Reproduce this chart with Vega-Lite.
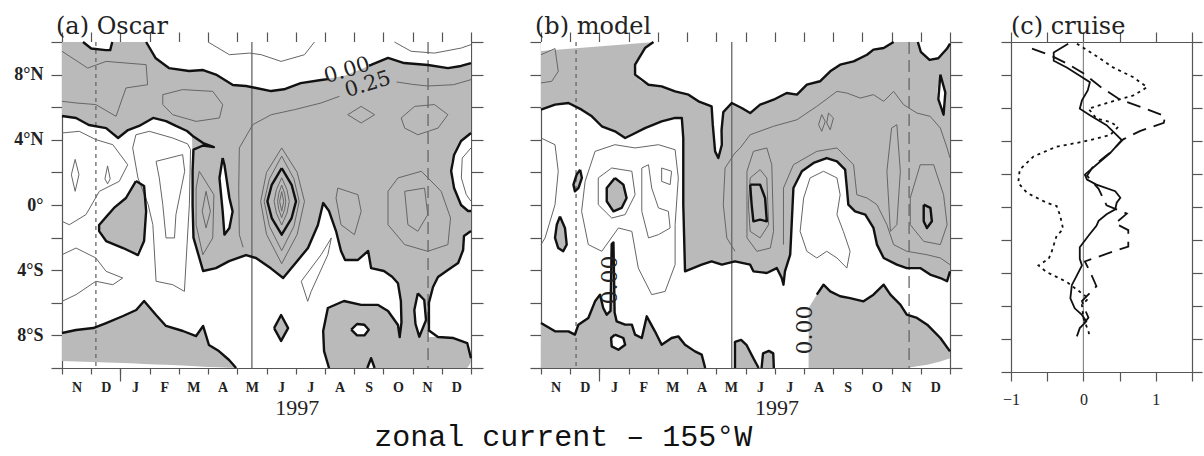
{
"$schema":"https://vega.github.io/schema/vega-lite/v6.json",
"background":"white",
"padding":{"left":13,"top":15,"right":0,"bottom":0},
"config":{"view":{"stroke":null},"axis":{"grid":false,"domainColor":"#555","tickColor":"#555","domainWidth":1.2,"tickWidth":1.2,"labelColor":"#222"},"title":{"font":"DejaVu Serif","fontWeight":"normal","color":"#222"}},
"title":{"text":"zonal current – 155°W","orient":"bottom","anchor":"middle","dx":-45,"offset":3,"baseline":"top","fontSize":30,"font":"Liberation Mono","color":"#111"},
"spacing":35,
"datasets":{
"aG":[
{"k":"n","t":0,"lo":5.46,"hi":10},{"k":"n","t":0.48,"lo":5.34,"hi":10},{"k":"n","t":0.92,"lo":4.91,"hi":10},{"k":"n","t":1.51,"lo":4.72,"hi":10},{"k":"n","t":1.92,"lo":4.11,"hi":10},{"k":"n","t":2.26,"lo":4.6,"hi":10},{"k":"n","t":2.64,"lo":4.85,"hi":10},{"k":"n","t":3.12,"lo":5.34,"hi":10},{"k":"n","t":3.56,"lo":5.15,"hi":10},{"k":"n","t":3.9,"lo":4.85,"hi":10},{"k":"n","t":4.28,"lo":4.54,"hi":10},{"k":"n","t":4.45,"lo":4.3,"hi":10},{"k":"n","t":4.47,"lo":2.1,"hi":10},{"k":"n","t":4.5,"lo":-2.0,"hi":10},{"k":"n","t":4.83,"lo":-4.05,"hi":10},{"k":"n","t":5.27,"lo":-3.87,"hi":10},{"k":"n","t":5.72,"lo":-3.44,"hi":10},{"k":"n","t":6.3,"lo":-3.07,"hi":10},{"k":"n","t":6.64,"lo":-3.25,"hi":10},{"k":"n","t":7.16,"lo":-3.9,"hi":10},{"k":"n","t":7.57,"lo":-4.48,"hi":10},{"k":"n","t":7.94,"lo":-3.68,"hi":10},{"k":"n","t":8.42,"lo":-2.64,"hi":10},{"k":"n","t":8.76,"lo":-1.23,"hi":10},{"k":"n","t":8.94,"lo":0.12,"hi":10},{"k":"n","t":9.14,"lo":-0.37,"hi":10},{"k":"n","t":9.38,"lo":-1.6,"hi":10},{"k":"n","t":9.55,"lo":-2.82,"hi":10},{"k":"n","t":9.69,"lo":-3.37,"hi":10},{"k":"n","t":10.13,"lo":-3.37,"hi":10},{"k":"n","t":10.48,"lo":-2.82,"hi":10},{"k":"n","t":10.58,"lo":-3.87,"hi":10},{"k":"n","t":11.02,"lo":-4.05,"hi":10},{"k":"n","t":11.3,"lo":-4.4,"hi":10},{"k":"n","t":11.5,"lo":-4.8,"hi":10},{"k":"n","t":11.6,"lo":-5.9,"hi":10},{"k":"n","t":11.62,"lo":-10,"hi":10},{"k":"n","t":12.54,"lo":-10,"hi":10},{"k":"n","t":12.56,"lo":-6.0,"hi":10},{"k":"n","t":12.7,"lo":-5.03,"hi":10},{"k":"n","t":12.87,"lo":-4.42,"hi":10},{"k":"n","t":13.21,"lo":-3.99,"hi":10},{"k":"n","t":13.56,"lo":-3.56,"hi":10},{"k":"n","t":13.73,"lo":-2.76,"hi":10},{"k":"n","t":13.76,"lo":-1.9,"hi":10},{"k":"n","t":14,"lo":-1.6,"hi":10},
{"k":"f2","t":1.27,"lo":-1.6,"hi":-1.23},{"k":"f2","t":1.51,"lo":-2.21,"hi":-0.6},{"k":"f2","t":1.78,"lo":-2.4,"hi":-0.18},{"k":"f2","t":2.19,"lo":-2.7,"hi":0.43},{"k":"f2","t":2.53,"lo":-3.0,"hi":1.47},{"k":"f2","t":2.81,"lo":-2.21,"hi":1.17},{"k":"f2","t":2.88,"lo":-0.9,"hi":-0.37},
{"k":"f3","t":8.93,"lo":-8.4,"hi":-7.9},{"k":"f3","t":8.97,"lo":-9.0,"hi":-7.2},{"k":"f3","t":9.05,"lo":-9.6,"hi":-6.6},{"k":"f3","t":9.1,"lo":-10,"hi":-6.32},{"k":"f3","t":9.65,"lo":-10,"hi":-5.89},{"k":"f3","t":10.24,"lo":-10,"hi":-6.13},{"k":"f3","t":10.82,"lo":-10,"hi":-6.13},{"k":"f3","t":11.16,"lo":-10,"hi":-6.5},{"k":"f3","t":11.5,"lo":-10,"hi":-7.36},{"k":"f3","t":11.62,"lo":-10,"hi":-8.1},{"k":"f3","t":12.55,"lo":-10,"hi":-8.1},{"k":"f3","t":12.87,"lo":-10,"hi":-8.1},{"k":"f3","t":13.4,"lo":-10,"hi":-8.16},{"k":"f3","t":13.87,"lo":-10,"hi":-8.47},{"k":"f3","t":13.95,"lo":-9.8,"hi":-8.9},{"k":"f3","t":14,"lo":-9.6,"hi":-9.4},
{"k":"f4","t":0,"lo":-9.57,"hi":-7.85},{"k":"f4","t":0.48,"lo":-9.6,"hi":-7.67},{"k":"f4","t":1.07,"lo":-9.63,"hi":-7.55},{"k":"f4","t":1.51,"lo":-9.66,"hi":-7.24},{"k":"f4","t":2.09,"lo":-9.7,"hi":-6.81},{"k":"f4","t":2.54,"lo":-9.73,"hi":-6.44},{"k":"f4","t":2.81,"lo":-9.75,"hi":-5.89},{"k":"f4","t":3.22,"lo":-9.78,"hi":-6.75},{"k":"f4","t":3.56,"lo":-9.8,"hi":-7.42},{"k":"f4","t":4.14,"lo":-9.85,"hi":-7.73},{"k":"f4","t":4.59,"lo":-9.9,"hi":-8.04},{"k":"f4","t":4.83,"lo":-9.92,"hi":-7.42},{"k":"f4","t":5.03,"lo":-9.94,"hi":-8.59},{"k":"f4","t":5.37,"lo":-9.96,"hi":-8.96},{"k":"f4","t":5.72,"lo":-9.98,"hi":-9.51},{"k":"f4","t":5.96,"lo":-10,"hi":-10},
{"k":"f5","t":7.26,"lo":-7.55,"hi":-7.55},{"k":"f5","t":7.5,"lo":-8.34,"hi":-6.75},{"k":"f5","t":7.74,"lo":-7.55,"hi":-7.55}
],
"aW":[
{"k":"wn","t":2.87,"lo":9.99,"hi":10},{"k":"wn","t":3.21,"lo":9.0,"hi":10},{"k":"wn","t":3.66,"lo":8.4,"hi":10},{"k":"wn","t":4.35,"lo":8.22,"hi":10},{"k":"wn","t":4.83,"lo":8.28,"hi":10},{"k":"wn","t":5.27,"lo":8.0,"hi":10},{"k":"wn","t":5.85,"lo":7.36,"hi":10},{"k":"wn","t":6.3,"lo":7.3,"hi":10},{"k":"wn","t":6.64,"lo":7.18,"hi":10},{"k":"wn","t":7.16,"lo":6.99,"hi":10},{"k":"wn","t":7.6,"lo":7.1,"hi":10},{"k":"wn","t":8.17,"lo":7.48,"hi":10},{"k":"wn","t":8.87,"lo":7.67,"hi":10},{"k":"wn","t":9.7,"lo":7.95,"hi":10},{"k":"wn","t":10.58,"lo":8.59,"hi":10},{"k":"wn","t":11.16,"lo":9.02,"hi":10},{"k":"wn","t":11.71,"lo":8.71,"hi":10},{"k":"wn","t":12.53,"lo":8.59,"hi":10},{"k":"wn","t":13.21,"lo":8.4,"hi":10},{"k":"wn","t":13.66,"lo":8.53,"hi":10},{"k":"wn","t":14,"lo":8.71,"hi":10},
{"k":"nt","t":0.72,"lo":10,"hi":10},{"k":"nt","t":1.0,"lo":9.6,"hi":10},{"k":"nt","t":1.5,"lo":9.5,"hi":10},{"k":"nt","t":1.65,"lo":9.5,"hi":10},{"k":"nt","t":1.72,"lo":10,"hi":10},
{"k":"w1","t":5.38,"lo":1.5,"hi":1.6},{"k":"w1","t":5.5,"lo":-0.4,"hi":2.88},{"k":"w1","t":5.56,"lo":-1.82,"hi":2.47},{"k":"w1","t":5.73,"lo":-1.41,"hi":0.43},{"k":"w1","t":5.84,"lo":-0.45,"hi":-0.35},
{"k":"w2","t":13.32,"lo":1.6,"hi":2.6},{"k":"w2","t":13.42,"lo":0.9,"hi":3.07},{"k":"w2","t":13.66,"lo":0.0,"hi":3.93},{"k":"w2","t":13.9,"lo":-0.37,"hi":4.3},{"k":"w2","t":14,"lo":-0.37,"hi":4.42},
{"k":"w3","t":12.06,"lo":-6.9,"hi":-6.3},{"k":"w3","t":12.18,"lo":-7.9,"hi":-5.42},{"k":"w3","t":12.3,"lo":-7.7,"hi":-5.6},{"k":"w3","t":12.4,"lo":-7.3,"hi":-5.83},{"k":"w3","t":12.46,"lo":-7.06,"hi":-7.0},
{"k":"w4","t":9.9,"lo":-7.75,"hi":-7.55},{"k":"w4","t":10.1,"lo":-8.0,"hi":-7.3},{"k":"w4","t":10.35,"lo":-8.0,"hi":-7.35},{"k":"w4","t":10.5,"lo":-7.7,"hi":-7.6},
{"k":"w5","t":10.45,"lo":-10,"hi":-10},{"k":"w5","t":10.58,"lo":-10,"hi":-9.4},{"k":"w5","t":10.7,"lo":-10,"hi":-10}
],
"aZ":[
{"k":"z1","t":0,"v":5.46},{"k":"z1","t":0.48,"v":5.34},{"k":"z1","t":0.92,"v":4.91},{"k":"z1","t":1.51,"v":4.72},{"k":"z1","t":1.92,"v":4.11},{"k":"z1","t":2.26,"v":4.6},{"k":"z1","t":2.64,"v":4.85},{"k":"z1","t":3.12,"v":5.34},{"k":"z1","t":3.56,"v":5.15},{"k":"z1","t":3.9,"v":4.85},{"k":"z1","t":4.28,"v":4.54},{"k":"z1","t":4.5,"v":4.2},{"k":"z1","t":4.83,"v":3.8},{"k":"z1","t":5.2,"v":3.55},{"k":"z1","t":4.83,"v":3.65},{"k":"z1","t":4.5,"v":3.4},{"k":"z1","t":4.47,"v":2.1},{"k":"z1","t":4.47,"v":0},{"k":"z1","t":4.5,"v":-2.0},{"k":"z1","t":4.83,"v":-4.05},{"k":"z1","t":5.27,"v":-3.87},{"k":"z1","t":5.72,"v":-3.44},{"k":"z1","t":6.3,"v":-3.07},{"k":"z1","t":6.64,"v":-3.25},{"k":"z1","t":7.16,"v":-3.9},{"k":"z1","t":7.57,"v":-4.48},{"k":"z1","t":7.94,"v":-3.68},{"k":"z1","t":8.42,"v":-2.64},{"k":"z1","t":8.76,"v":-1.23},{"k":"z1","t":8.94,"v":0.12},{"k":"z1","t":9.14,"v":-0.37},{"k":"z1","t":9.38,"v":-1.6},{"k":"z1","t":9.55,"v":-2.82},{"k":"z1","t":9.69,"v":-3.37},{"k":"z1","t":10.13,"v":-3.37},{"k":"z1","t":10.48,"v":-2.82},{"k":"z1","t":10.58,"v":-3.87},{"k":"z1","t":11.02,"v":-4.05},{"k":"z1","t":11.3,"v":-4.4},{"k":"z1","t":11.5,"v":-4.8},{"k":"z1","t":11.6,"v":-5.9},{"k":"z1","t":11.62,"v":-7.2},{"k":"z1","t":11.56,"v":-8.1},{"k":"z1","t":11.5,"v":-7.36},{"k":"z1","t":11.16,"v":-6.5},{"k":"z1","t":10.82,"v":-6.13},{"k":"z1","t":10.24,"v":-6.13},{"k":"z1","t":9.65,"v":-5.89},{"k":"z1","t":9.1,"v":-6.32},{"k":"z1","t":8.94,"v":-7.73},{"k":"z1","t":8.97,"v":-8.96},{"k":"z1","t":9.14,"v":-10},
{"k":"z2","t":14,"v":-1.6},{"k":"z2","t":13.76,"v":-1.9},{"k":"z2","t":13.73,"v":-2.76},{"k":"z2","t":13.56,"v":-3.56},{"k":"z2","t":13.21,"v":-3.99},{"k":"z2","t":12.87,"v":-4.42},{"k":"z2","t":12.7,"v":-5.03},{"k":"z2","t":12.56,"v":-6.0},{"k":"z2","t":12.56,"v":-7.7},{"k":"z2","t":12.87,"v":-8.1},{"k":"z2","t":13.4,"v":-8.16},{"k":"z2","t":13.87,"v":-8.47},{"k":"z2","t":14,"v":-9.4},
{"k":"z3","t":2.88,"v":10},{"k":"z3","t":3.21,"v":9.0},{"k":"z3","t":3.66,"v":8.4},{"k":"z3","t":4.35,"v":8.22},{"k":"z3","t":4.83,"v":8.28},{"k":"z3","t":5.27,"v":8.0},{"k":"z3","t":5.85,"v":7.36},{"k":"z3","t":6.3,"v":7.3},{"k":"z3","t":6.64,"v":7.18},{"k":"z3","t":7.16,"v":6.99},{"k":"z3","t":7.6,"v":7.1},{"k":"z3","t":8.17,"v":7.48},{"k":"z3","t":8.87,"v":7.67},{"k":"z3","t":9.1,"v":7.72},
{"k":"z3b","t":10.5,"v":8.55},{"k":"z3b","t":10.58,"v":8.59},{"k":"z3b","t":11.16,"v":9.02},{"k":"z3b","t":11.71,"v":8.71},{"k":"z3b","t":12.53,"v":8.59},{"k":"z3b","t":13.21,"v":8.4},{"k":"z3b","t":13.66,"v":8.53},{"k":"z3b","t":14,"v":8.71},
{"k":"z4","t":0.72,"v":10},{"k":"z4","t":1.0,"v":9.6},{"k":"z4","t":1.5,"v":9.5},{"k":"z4","t":1.65,"v":9.5},{"k":"z4","t":1.72,"v":10},
{"k":"z5","t":0,"v":-7.85},{"k":"z5","t":0.48,"v":-7.67},{"k":"z5","t":1.07,"v":-7.55},{"k":"z5","t":1.51,"v":-7.24},{"k":"z5","t":2.09,"v":-6.81},{"k":"z5","t":2.54,"v":-6.44},{"k":"z5","t":2.81,"v":-5.89},{"k":"z5","t":3.22,"v":-6.75},{"k":"z5","t":3.56,"v":-7.42},{"k":"z5","t":4.14,"v":-7.73},{"k":"z5","t":4.59,"v":-8.04},{"k":"z5","t":4.83,"v":-7.42},{"k":"z5","t":5.03,"v":-8.59},{"k":"z5","t":5.37,"v":-8.96},{"k":"z5","t":5.72,"v":-9.51},{"k":"z5","t":5.96,"v":-10},
{"k":"z6","t":2.53,"v":1.47},{"k":"z6","t":2.81,"v":1.17},{"k":"z6","t":2.88,"v":-0.37},{"k":"z6","t":2.81,"v":-2.21},{"k":"z6","t":2.6,"v":-3.07},{"k":"z6","t":2.09,"v":-2.64},{"k":"z6","t":1.51,"v":-2.21},{"k":"z6","t":1.27,"v":-1.6},{"k":"z6","t":1.27,"v":-1.23},{"k":"z6","t":1.78,"v":-0.18},{"k":"z6","t":2.19,"v":0.43},{"k":"z6","t":2.53,"v":1.47},
{"k":"z7","t":7.26,"v":-7.55},{"k":"z7","t":7.5,"v":-6.75},{"k":"z7","t":7.74,"v":-7.55},{"k":"z7","t":7.5,"v":-8.34},{"k":"z7","t":7.26,"v":-7.55},
{"k":"z8","t":5.5,"v":2.88},{"k":"z8","t":5.39,"v":1.66},{"k":"z8","t":5.5,"v":-0.39},{"k":"z8","t":5.56,"v":-1.82},{"k":"z8","t":5.73,"v":-1.41},{"k":"z8","t":5.84,"v":-0.39},{"k":"z8","t":5.73,"v":0.43},{"k":"z8","t":5.56,"v":2.47},{"k":"z8","t":5.5,"v":2.88},
{"k":"z9","t":14,"v":4.42},{"k":"z9","t":13.66,"v":3.93},{"k":"z9","t":13.42,"v":3.07},{"k":"z9","t":13.32,"v":2.09},{"k":"z9","t":13.42,"v":1.04},{"k":"z9","t":13.66,"v":0.0},{"k":"z9","t":13.9,"v":-0.37},{"k":"z9","t":14,"v":-0.37},
{"k":"z10","t":12.18,"v":-5.42},{"k":"z10","t":12.06,"v":-6.44},{"k":"z10","t":12.1,"v":-7.3},{"k":"z10","t":12.23,"v":-8.08},{"k":"z10","t":12.46,"v":-7.06},{"k":"z10","t":12.4,"v":-5.83},{"k":"z10","t":12.18,"v":-5.42},
{"k":"z11","t":9.9,"v":-7.65},{"k":"z11","t":10.1,"v":-7.3},{"k":"z11","t":10.35,"v":-7.35},{"k":"z11","t":10.5,"v":-7.65},{"k":"z11","t":10.35,"v":-8.0},{"k":"z11","t":10.1,"v":-8.0},{"k":"z11","t":9.9,"v":-7.65},
{"k":"z12","t":10.45,"v":-10},{"k":"z12","t":10.58,"v":-9.4},{"k":"z12","t":10.7,"v":-10},
{"k":"e1","t":7.52,"v":2.26},{"k":"e1","t":7.86,"v":1.24},{"k":"e1","t":8.01,"v":0.22},{"k":"e1","t":7.86,"v":-0.8},{"k":"e1","t":7.52,"v":-1.82},{"k":"e1","t":7.18,"v":-0.8},{"k":"e1","t":7.03,"v":0.22},{"k":"e1","t":7.18,"v":1.24},{"k":"e1","t":7.52,"v":2.26}
],
"aT":[
{"k":"t1","t":0,"v":9.43},{"k":"t1","t":0.88,"v":8.4},{"k":"t1","t":1.51,"v":8.81},{"k":"t1","t":2.19,"v":8.71},{"k":"t1","t":2.88,"v":8.61},{"k":"t1","t":2.93,"v":7.38},{"k":"t1","t":2.19,"v":7.18},{"k":"t1","t":1.85,"v":5.44},{"k":"t1","t":1.16,"v":6.16},{"k":"t1","t":0.48,"v":6.26},{"k":"t1","t":0,"v":6.36},
{"k":"t2","t":3.45,"v":6.77},{"k":"t2","t":4.13,"v":7.08},{"k":"t2","t":5.16,"v":6.97},{"k":"t2","t":5.5,"v":6.16},{"k":"t2","t":5.39,"v":5.34},{"k":"t2","t":4.59,"v":5.13},{"k":"t2","t":3.79,"v":5.54},{"k":"t2","t":3.45,"v":6.16},{"k":"t2","t":3.45,"v":6.77},
{"k":"t3","t":0,"v":4.42},{"k":"t3","t":0.59,"v":4.52},{"k":"t3","t":1.16,"v":4.01},{"k":"t3","t":1.74,"v":3.7},{"k":"t3","t":2.25,"v":2.47},{"k":"t3","t":1.96,"v":1.45},{"k":"t3","t":1.28,"v":0.84},{"k":"t3","t":0.82,"v":-0.59},{"k":"t3","t":0.25,"v":-1.21},{"k":"t3","t":0,"v":-1.0},
{"k":"t4","t":0.45,"v":2.8},{"k":"t4","t":0.58,"v":1.86},{"k":"t4","t":0.45,"v":0.84},{"k":"t4","t":0.32,"v":1.86},{"k":"t4","t":0.45,"v":2.8},
{"k":"t5","t":1.56,"v":2.4},{"k":"t5","t":1.65,"v":1.6},{"k":"t5","t":1.56,"v":1.3},{"k":"t5","t":1.47,"v":1.6},{"k":"t5","t":1.56,"v":2.4},
{"k":"t6","t":2.53,"v":4.31},{"k":"t6","t":2.99,"v":4.52},{"k":"t6","t":3.79,"v":4.11},{"k":"t6","t":4.3,"v":3.75},{"k":"t6","t":4.4,"v":3.4},{"k":"t6","t":4.36,"v":0.02},{"k":"t6","t":4.28,"v":-2.43},{"k":"t6","t":4.19,"v":-5.3},{"k":"t6","t":3.79,"v":-4.89},{"k":"t6","t":3.22,"v":-4.68},{"k":"t6","t":3.11,"v":-1.21},{"k":"t6","t":2.95,"v":0.02},{"k":"t6","t":2.6,"v":1.66},{"k":"t6","t":2.42,"v":3.5},{"k":"t6","t":2.53,"v":4.31},
{"k":"t7","t":3.22,"v":2.68},{"k":"t7","t":4.13,"v":3.09},{"k":"t7","t":4.2,"v":2.07},{"k":"t7","t":3.9,"v":-0.59},{"k":"t7","t":3.85,"v":-2.02},{"k":"t7","t":3.56,"v":-2.02},{"k":"t7","t":3.45,"v":0.02},{"k":"t7","t":3.33,"v":1.66},{"k":"t7","t":3.22,"v":2.68},
{"k":"t8","t":0,"v":-3.05},{"k":"t8","t":0.48,"v":-2.64},{"k":"t8","t":1.16,"v":-3.25},{"k":"t8","t":1.51,"v":-4.07},{"k":"t8","t":2.08,"v":-4.48},{"k":"t8","t":1.74,"v":-4.89},{"k":"t8","t":1.16,"v":-4.68},{"k":"t8","t":0.48,"v":-5.5},{"k":"t8","t":0,"v":-5.91},
{"k":"t9","t":4.7,"v":2.07},{"k":"t9","t":5.2,"v":0.63},{"k":"t9","t":5.16,"v":-2.02},{"k":"t9","t":4.82,"v":-3.05},{"k":"t9","t":4.59,"v":-1.21},{"k":"t9","t":4.59,"v":1.04},{"k":"t9","t":4.7,"v":2.07},
{"k":"t9b","t":4.93,"v":0.84},{"k":"t9b","t":5.08,"v":-0.39},{"k":"t9b","t":4.93,"v":-1.41},{"k":"t9b","t":4.8,"v":-0.39},{"k":"t9b","t":4.93,"v":0.84},
{"k":"t10","t":6.2,"v":-2.6},{"k":"t10","t":6.07,"v":-1.82},{"k":"t10","t":6.05,"v":1.0},{"k":"t10","t":6.07,"v":3.5},{"k":"t10","t":6.53,"v":4.93},{"k":"t10","t":7.16,"v":5.54},{"k":"t10","t":7.96,"v":5.85},{"k":"t10","t":8.87,"v":6.26},{"k":"t10","t":9.5,"v":6.67},
{"k":"t10b","t":11.45,"v":7.55},{"k":"t10b","t":12.0,"v":7.4},{"k":"t10b","t":12.52,"v":7.3},{"k":"t10b","t":13.4,"v":7.38},{"k":"t10b","t":14,"v":7.69},
{"k":"t11","t":9.78,"v":5.54},{"k":"t11","t":10.24,"v":6.05},{"k":"t11","t":10.7,"v":5.54},{"k":"t11","t":10.24,"v":5.03},{"k":"t11","t":9.78,"v":5.54},
{"k":"t12","t":11.61,"v":5.34},{"k":"t12","t":12.07,"v":6.05},{"k":"t12","t":12.75,"v":6.16},{"k":"t12","t":13.21,"v":5.54},{"k":"t12","t":12.87,"v":4.72},{"k":"t12","t":12.18,"v":4.31},{"k":"t12","t":11.73,"v":4.72},{"k":"t12","t":11.61,"v":5.34},
{"k":"t14","t":9.44,"v":1.04},{"k":"t14","t":10.13,"v":0.63},{"k":"t14","t":10.24,"v":-0.39},{"k":"t14","t":10.01,"v":-1.82},{"k":"t14","t":9.55,"v":-1.21},{"k":"t14","t":9.38,"v":0.43},{"k":"t14","t":9.44,"v":1.04},
{"k":"t15","t":11.5,"v":1.66},{"k":"t15","t":12.3,"v":2.07},{"k":"t15","t":12.98,"v":0.84},{"k":"t15","t":13.3,"v":-0.8},{"k":"t15","t":13.21,"v":-2.43},{"k":"t15","t":12.52,"v":-2.84},{"k":"t15","t":11.73,"v":-2.43},{"k":"t15","t":11.16,"v":-1.21},{"k":"t15","t":11.16,"v":0.84},{"k":"t15","t":11.5,"v":1.66},
{"k":"t16","t":11.73,"v":0.84},{"k":"t16","t":12.41,"v":1.04},{"k":"t16","t":12.52,"v":-0.59},{"k":"t16","t":12.18,"v":-1.61},{"k":"t16","t":11.84,"v":-1.21},{"k":"t16","t":11.73,"v":0.84},
{"k":"t17","t":8.19,"v":-4.68},{"k":"t17","t":8.87,"v":-3.05},{"k":"t17","t":9.22,"v":-2.02},{"k":"t17","t":9.1,"v":-3.05},{"k":"t17","t":8.53,"v":-5.3},{"k":"t17","t":8.41,"v":-5.91},{"k":"t17","t":8.19,"v":-4.68},
{"k":"t18","t":14,"v":3.5},{"k":"t18","t":13.7,"v":2.88},{"k":"t18","t":13.67,"v":1.66},{"k":"t18","t":13.84,"v":0.63},{"k":"t18","t":14,"v":0.23},
{"k":"t19","t":5.0,"v":10},{"k":"t19","t":5.73,"v":9.22},{"k":"t19","t":6.42,"v":9.32},{"k":"t19","t":6.82,"v":9.22},{"k":"t19","t":7.5,"v":8.81},{"k":"t19","t":8.3,"v":9.22},{"k":"t19","t":8.64,"v":10},
{"k":"t20","t":11.38,"v":10},{"k":"t20","t":11.95,"v":9.43},{"k":"t20","t":12.75,"v":9.32},{"k":"t20","t":13.67,"v":9.63},{"k":"t20","t":14,"v":9.84},
{"k":"e2","t":7.52,"v":1.67},{"k":"e2","t":7.7,"v":0.95},{"k":"e2","t":7.78,"v":0.22},{"k":"e2","t":7.7,"v":-0.5},{"k":"e2","t":7.52,"v":-1.23},{"k":"e2","t":7.34,"v":-0.5},{"k":"e2","t":7.26,"v":0.22},{"k":"e2","t":7.34,"v":0.95},{"k":"e2","t":7.52,"v":1.67},
{"k":"e3","t":7.52,"v":1.22},{"k":"e3","t":7.62,"v":0.72},{"k":"e3","t":7.66,"v":0.22},{"k":"e3","t":7.62,"v":-0.28},{"k":"e3","t":7.52,"v":-0.78},{"k":"e3","t":7.42,"v":-0.28},{"k":"e3","t":7.38,"v":0.22},{"k":"e3","t":7.42,"v":0.72},{"k":"e3","t":7.52,"v":1.22},
{"k":"e4","t":7.52,"v":0.82},{"k":"e4","t":7.59,"v":0.22},{"k":"e4","t":7.52,"v":-0.38},{"k":"e4","t":7.45,"v":0.22},{"k":"e4","t":7.52,"v":0.82},
{"k":"e5","t":7.52,"v":3.0},{"k":"e5","t":7.94,"v":1.6},{"k":"e5","t":8.12,"v":0.22},{"k":"e5","t":7.94,"v":-1.3},{"k":"e5","t":7.52,"v":-2.8},{"k":"e5","t":7.1,"v":-1.3},{"k":"e5","t":6.92,"v":0.22},{"k":"e5","t":7.1,"v":1.6},{"k":"e5","t":7.52,"v":3.0},
{"k":"e6","t":7.52,"v":3.5},{"k":"e6","t":8.05,"v":2.0},{"k":"e6","t":8.3,"v":0.22},{"k":"e6","t":8.05,"v":-1.8},{"k":"e6","t":7.52,"v":-3.6},{"k":"e6","t":7.0,"v":-1.8},{"k":"e6","t":6.8,"v":0.22},{"k":"e6","t":7.0,"v":2.0},{"k":"e6","t":7.52,"v":3.5}
],
"aL":[{"t":9.76,"v":8.24,"s":"0.00","a":-17},{"t":10.47,"v":7.38,"s":"0.25","a":-17}],
"vA":[{"t":1.16,"s":"dot"},{"t":6.5,"s":"solid"},{"t":12.53,"s":"dash"}],
"bG":[
{"k":"n","t":0,"lo":5.85,"hi":10},{"k":"n","t":0.48,"lo":6.16,"hi":10},{"k":"n","t":0.94,"lo":6.26,"hi":10},{"k":"n","t":1.39,"lo":5.85,"hi":10},{"k":"n","t":1.74,"lo":5.44,"hi":10},{"k":"n","t":2.08,"lo":4.83,"hi":10},{"k":"n","t":2.53,"lo":4.52,"hi":10},{"k":"n","t":2.88,"lo":4.11,"hi":10},{"k":"n","t":3.11,"lo":4.31,"hi":10},{"k":"n","t":3.56,"lo":4.72,"hi":10},{"k":"n","t":4.13,"lo":5.13,"hi":10},{"k":"n","t":4.59,"lo":5.34,"hi":10},{"k":"n","t":4.82,"lo":5.34,"hi":10},{"k":"n","t":4.86,"lo":4.0,"hi":10},{"k":"n","t":4.88,"lo":0,"hi":10},{"k":"n","t":4.93,"lo":-4.07,"hi":10},{"k":"n","t":5.5,"lo":-3.66,"hi":10},{"k":"n","t":5.84,"lo":-3.46,"hi":10},{"k":"n","t":6.19,"lo":-3.66,"hi":10},{"k":"n","t":6.64,"lo":-3.46,"hi":10},{"k":"n","t":7.16,"lo":-3.66,"hi":10},{"k":"n","t":7.27,"lo":-4.07,"hi":10},{"k":"n","t":7.73,"lo":-4.17,"hi":10},{"k":"n","t":8.07,"lo":-3.87,"hi":10},{"k":"n","t":8.24,"lo":-4.48,"hi":10},{"k":"n","t":8.3,"lo":-4.89,"hi":10},{"k":"n","t":8.35,"lo":-4.07,"hi":10},{"k":"n","t":8.53,"lo":-3.05,"hi":10},{"k":"n","t":8.58,"lo":-1.21,"hi":10},{"k":"n","t":8.64,"lo":1.04,"hi":10},{"k":"n","t":8.93,"lo":2.07,"hi":10},{"k":"n","t":9.33,"lo":2.58,"hi":10},{"k":"n","t":9.78,"lo":2.88,"hi":10},{"k":"n","t":10.13,"lo":2.68,"hi":10},{"k":"n","t":10.41,"lo":2.17,"hi":10},{"k":"n","t":10.47,"lo":1.04,"hi":10},{"k":"n","t":10.52,"lo":0.02,"hi":10},{"k":"n","t":10.75,"lo":-0.39,"hi":10},{"k":"n","t":11.1,"lo":-0.59,"hi":10},{"k":"n","t":11.38,"lo":-1.41,"hi":10},{"k":"n","t":11.5,"lo":-2.43,"hi":10},{"k":"n","t":11.73,"lo":-3.25,"hi":10},{"k":"n","t":12.18,"lo":-3.66,"hi":10},{"k":"n","t":12.52,"lo":-3.87,"hi":10},{"k":"n","t":12.98,"lo":-3.87,"hi":10},{"k":"n","t":13.32,"lo":-4.27,"hi":10},{"k":"n","t":13.67,"lo":-4.48,"hi":10},{"k":"n","t":13.9,"lo":-4.68,"hi":10},{"k":"n","t":14,"lo":-4.07,"hi":10},
{"k":"sw","t":0,"lo":-10,"hi":-7.24},{"k":"sw","t":0.48,"lo":-10,"hi":-7.75},{"k":"sw","t":0.94,"lo":-10,"hi":-7.75},{"k":"sw","t":1.16,"lo":-10,"hi":-7.95},{"k":"sw","t":1.28,"lo":-10,"hi":-7.34},{"k":"sw","t":1.62,"lo":-10,"hi":-6.93},{"k":"sw","t":1.85,"lo":-10,"hi":-5.91},{"k":"sw","t":2.02,"lo":-10,"hi":-5.5},{"k":"sw","t":2.13,"lo":-10,"hi":-6.32},{"k":"sw","t":2.25,"lo":-10,"hi":-6.73},{"k":"sw","t":2.38,"lo":-10,"hi":-6.5},{"k":"sw","t":2.42,"lo":-10,"hi":-2.4},{"k":"sw","t":2.48,"lo":-10,"hi":-2.3},{"k":"sw","t":2.52,"lo":-10,"hi":-6.6},{"k":"sw","t":2.59,"lo":-10,"hi":-7.14},{"k":"sw","t":2.88,"lo":-10,"hi":-7.34},{"k":"sw","t":3.11,"lo":-10,"hi":-7.34},{"k":"sw","t":3.22,"lo":-10,"hi":-7.95},{"k":"sw","t":3.45,"lo":-10,"hi":-8.16},{"k":"sw","t":3.62,"lo":-10,"hi":-6.83},{"k":"sw","t":3.9,"lo":-10,"hi":-7.75},{"k":"sw","t":4.13,"lo":-10,"hi":-8.57},{"k":"sw","t":4.47,"lo":-10,"hi":-8.16},{"k":"sw","t":4.7,"lo":-10,"hi":-8.06},{"k":"sw","t":4.93,"lo":-10,"hi":-8.57},{"k":"sw","t":5.27,"lo":-10,"hi":-8.98},{"k":"sw","t":5.5,"lo":-10,"hi":-9.18},{"k":"sw","t":5.62,"lo":-10,"hi":-10},
{"k":"se","t":9.16,"lo":-10,"hi":-6.32},{"k":"se","t":9.44,"lo":-10,"hi":-5.5},{"k":"se","t":9.67,"lo":-10,"hi":-4.89},{"k":"se","t":9.9,"lo":-10,"hi":-5.3},{"k":"se","t":10.24,"lo":-10,"hi":-5.6},{"k":"se","t":10.58,"lo":-10,"hi":-5.71},{"k":"se","t":11.04,"lo":-10,"hi":-5.91},{"k":"se","t":11.38,"lo":-10,"hi":-5.5},{"k":"se","t":11.73,"lo":-10,"hi":-4.89},{"k":"se","t":11.96,"lo":-10,"hi":-5.5},{"k":"se","t":12.3,"lo":-10,"hi":-6.11},{"k":"se","t":12.52,"lo":-10,"hi":-6.73},{"k":"se","t":12.87,"lo":-9.9,"hi":-6.93},{"k":"se","t":13.22,"lo":-9.8,"hi":-7.34},{"k":"se","t":13.67,"lo":-9.6,"hi":-8.16},{"k":"se","t":14,"lo":-9.4,"hi":-8.98},
{"k":"l1","t":1.11,"lo":1.1,"hi":1.35},{"k":"l1","t":1.22,"lo":0.9,"hi":1.86},{"k":"l1","t":1.34,"lo":1.1,"hi":2.17},{"k":"l1","t":1.4,"lo":1.6,"hi":1.7},
{"k":"l2","t":2.25,"lo":0.23,"hi":1.04},{"k":"l2","t":2.4,"lo":-0.3,"hi":1.5},{"k":"l2","t":2.53,"lo":-0.4,"hi":1.66},{"k":"l2","t":2.76,"lo":-0.18,"hi":1.4},{"k":"l2","t":2.82,"lo":-0.05,"hi":1.25},{"k":"l2","t":2.93,"lo":0.43,"hi":0.5},
{"k":"l3","t":0.48,"lo":-2.1,"hi":-1.95},{"k":"l3","t":0.54,"lo":-2.5,"hi":-1.21},{"k":"l3","t":0.65,"lo":-2.75,"hi":-0.7},{"k":"l3","t":0.76,"lo":-2.84,"hi":-1.1},{"k":"l3","t":0.82,"lo":-2.7,"hi":-1.41},{"k":"l3","t":0.88,"lo":-2.43,"hi":-2.1},
{"k":"b1","t":6.64,"lo":-10,"hi":-8.4},{"k":"b1","t":6.85,"lo":-10,"hi":-8.28},{"k":"b1","t":7.04,"lo":-10,"hi":-8.6},{"k":"b1","t":7.27,"lo":-10,"hi":-9.4},{"k":"b1","t":7.45,"lo":-10,"hi":-10},
{"k":"b2","t":7.55,"lo":-10,"hi":-10},{"k":"b2","t":7.6,"lo":-10,"hi":-9.1},{"k":"b2","t":7.8,"lo":-10,"hi":-8.95},{"k":"b2","t":7.95,"lo":-10,"hi":-9.1},{"k":"b2","t":7.97,"lo":-10,"hi":-10}
],
"bW":[
{"k":"wn","t":3.22,"lo":8.0,"hi":8.61},{"k":"wn","t":3.4,"lo":7.6,"hi":9.2},{"k":"wn","t":3.56,"lo":7.45,"hi":9.63},{"k":"wn","t":3.68,"lo":7.38,"hi":9.8},{"k":"wn","t":3.85,"lo":7.33,"hi":10},{"k":"wn","t":4.13,"lo":7.28,"hi":10},{"k":"wn","t":4.59,"lo":6.97,"hi":10},{"k":"wn","t":5.05,"lo":6.77,"hi":10},{"k":"wn","t":5.39,"lo":6.36,"hi":10},{"k":"wn","t":5.84,"lo":6.05,"hi":10},{"k":"wn","t":5.88,"lo":4.93,"hi":10},{"k":"wn","t":5.96,"lo":3.29,"hi":10},{"k":"wn","t":6.07,"lo":2.88,"hi":10},{"k":"wn","t":6.16,"lo":3.5,"hi":10},{"k":"wn","t":6.19,"lo":4.6,"hi":10},{"k":"wn","t":6.24,"lo":5.7,"hi":10},{"k":"wn","t":6.53,"lo":6.26,"hi":10},{"k":"wn","t":6.87,"lo":5.95,"hi":10},{"k":"wn","t":7.16,"lo":5.64,"hi":10},{"k":"wn","t":7.5,"lo":6.16,"hi":10},{"k":"wn","t":7.96,"lo":6.46,"hi":10},{"k":"wn","t":8.41,"lo":6.87,"hi":10},{"k":"wn","t":8.76,"lo":6.77,"hi":10},{"k":"wn","t":9.1,"lo":7.38,"hi":10},{"k":"wn","t":9.55,"lo":7.59,"hi":10},{"k":"wn","t":9.9,"lo":8.2,"hi":10},{"k":"wn","t":10.24,"lo":8.61,"hi":10},{"k":"wn","t":10.7,"lo":8.81,"hi":10},{"k":"wn","t":11.16,"lo":9.22,"hi":10},{"k":"wn","t":11.38,"lo":9.53,"hi":10},{"k":"wn","t":11.73,"lo":9.63,"hi":10},{"k":"wn","t":12.07,"lo":10,"hi":10},
{"k":"wt","t":0,"lo":9.45,"hi":10},{"k":"wt","t":3.9,"lo":10,"hi":10},
{"k":"nt","t":12.9,"lo":10,"hi":10},{"k":"nt","t":13.0,"lo":9.4,"hi":10},{"k":"nt","t":13.3,"lo":8.9,"hi":10},{"k":"nt","t":13.6,"lo":9.0,"hi":10},{"k":"nt","t":13.9,"lo":9.6,"hi":10},{"k":"nt","t":14,"lo":9.9,"hi":10},
{"k":"ln","t":13.56,"lo":6.6,"hi":7.0},{"k":"ln","t":13.67,"lo":5.9,"hi":8.0},{"k":"ln","t":13.78,"lo":5.54,"hi":7.3},{"k":"ln","t":13.84,"lo":6.8,"hi":7.0},
{"k":"h1","t":2.4,"lo":-8.4,"hi":-8.16},{"k":"h1","t":2.53,"lo":-8.8,"hi":-7.95},{"k":"h1","t":2.7,"lo":-8.88,"hi":-8.05},{"k":"h1","t":2.88,"lo":-8.57,"hi":-8.5}
],
"bZ":[
{"k":"z1","t":0,"v":5.85},{"k":"z1","t":0.48,"v":6.16},{"k":"z1","t":0.94,"v":6.26},{"k":"z1","t":1.39,"v":5.85},{"k":"z1","t":1.74,"v":5.44},{"k":"z1","t":2.08,"v":4.83},{"k":"z1","t":2.53,"v":4.52},{"k":"z1","t":2.88,"v":4.11},{"k":"z1","t":3.11,"v":4.31},{"k":"z1","t":3.56,"v":4.72},{"k":"z1","t":4.13,"v":5.13},{"k":"z1","t":4.59,"v":5.34},{"k":"z1","t":4.82,"v":5.34},{"k":"z1","t":4.87,"v":4.11},{"k":"z1","t":4.87,"v":0.02},{"k":"z1","t":4.93,"v":-4.07},{"k":"z1","t":5.5,"v":-3.66},{"k":"z1","t":5.84,"v":-3.46},{"k":"z1","t":6.19,"v":-3.66},{"k":"z1","t":6.64,"v":-3.46},{"k":"z1","t":7.16,"v":-3.66},{"k":"z1","t":7.27,"v":-4.07},{"k":"z1","t":7.73,"v":-4.17},{"k":"z1","t":8.07,"v":-3.87},{"k":"z1","t":8.24,"v":-4.48},{"k":"z1","t":8.3,"v":-4.89},{"k":"z1","t":8.35,"v":-4.07},{"k":"z1","t":8.53,"v":-3.05},{"k":"z1","t":8.58,"v":-1.21},{"k":"z1","t":8.64,"v":1.04},{"k":"z1","t":8.93,"v":2.07},{"k":"z1","t":9.33,"v":2.58},{"k":"z1","t":9.78,"v":2.88},{"k":"z1","t":10.13,"v":2.68},{"k":"z1","t":10.41,"v":2.17},{"k":"z1","t":10.47,"v":1.04},{"k":"z1","t":10.52,"v":0.02},{"k":"z1","t":10.75,"v":-0.39},{"k":"z1","t":11.1,"v":-0.59},{"k":"z1","t":11.38,"v":-1.41},{"k":"z1","t":11.5,"v":-2.43},{"k":"z1","t":11.73,"v":-3.25},{"k":"z1","t":12.18,"v":-3.66},{"k":"z1","t":12.52,"v":-3.87},{"k":"z1","t":12.98,"v":-3.87},{"k":"z1","t":13.32,"v":-4.27},{"k":"z1","t":13.67,"v":-4.48},{"k":"z1","t":13.9,"v":-4.68},{"k":"z1","t":14,"v":-4.07},
{"k":"z2","t":3.85,"v":10},{"k":"z2","t":3.56,"v":9.63},{"k":"z2","t":3.22,"v":8.61},{"k":"z2","t":3.22,"v":8.0},{"k":"z2","t":3.68,"v":7.38},{"k":"z2","t":4.13,"v":7.28},{"k":"z2","t":4.59,"v":6.97},{"k":"z2","t":5.05,"v":6.77},{"k":"z2","t":5.39,"v":6.36},{"k":"z2","t":5.84,"v":6.05},{"k":"z2","t":5.88,"v":4.93},{"k":"z2","t":5.96,"v":3.29},{"k":"z2","t":6.07,"v":2.88},{"k":"z2","t":6.19,"v":3.7},{"k":"z2","t":6.18,"v":4.6},{"k":"z2","t":6.24,"v":5.7},{"k":"z2","t":6.53,"v":6.26},{"k":"z2","t":6.87,"v":5.95},{"k":"z2","t":7.16,"v":5.64},{"k":"z2","t":7.5,"v":6.16},{"k":"z2","t":7.96,"v":6.46},{"k":"z2","t":8.41,"v":6.87},{"k":"z2","t":8.76,"v":6.77},{"k":"z2","t":9.1,"v":7.38},{"k":"z2","t":9.55,"v":7.59},{"k":"z2","t":9.9,"v":8.2},{"k":"z2","t":10.24,"v":8.61},{"k":"z2","t":10.7,"v":8.81},{"k":"z2","t":11.16,"v":9.22},{"k":"z2","t":11.38,"v":9.53},{"k":"z2","t":11.73,"v":9.63},{"k":"z2","t":12.07,"v":10},
{"k":"z3","t":12.9,"v":10},{"k":"z3","t":13.0,"v":9.4},{"k":"z3","t":13.3,"v":8.9},{"k":"z3","t":13.6,"v":9.0},{"k":"z3","t":13.9,"v":9.6},{"k":"z3","t":14,"v":9.9},
{"k":"z4","t":13.67,"v":8.0},{"k":"z4","t":13.84,"v":6.9},{"k":"z4","t":13.78,"v":5.54},{"k":"z4","t":13.6,"v":6.5},{"k":"z4","t":13.67,"v":8.0},
{"k":"z5","t":0,"v":-7.24},{"k":"z5","t":0.48,"v":-7.75},{"k":"z5","t":0.94,"v":-7.75},{"k":"z5","t":1.16,"v":-7.95},{"k":"z5","t":1.28,"v":-7.34},{"k":"z5","t":1.62,"v":-6.93},{"k":"z5","t":1.85,"v":-5.91},{"k":"z5","t":2.02,"v":-5.5},{"k":"z5","t":2.13,"v":-6.32},{"k":"z5","t":2.25,"v":-6.73},{"k":"z5","t":2.38,"v":-6.5},{"k":"z5","t":2.42,"v":-2.4},{"k":"z5","t":2.48,"v":-2.3},{"k":"z5","t":2.52,"v":-6.6},{"k":"z5","t":2.59,"v":-7.14},{"k":"z5","t":2.88,"v":-7.34},{"k":"z5","t":3.11,"v":-7.34},{"k":"z5","t":3.22,"v":-7.95},{"k":"z5","t":3.45,"v":-8.16},{"k":"z5","t":3.62,"v":-6.83},{"k":"z5","t":3.9,"v":-7.75},{"k":"z5","t":4.13,"v":-8.57},{"k":"z5","t":4.47,"v":-8.16},{"k":"z5","t":4.7,"v":-8.06},{"k":"z5","t":4.93,"v":-8.57},{"k":"z5","t":5.27,"v":-8.98},{"k":"z5","t":5.5,"v":-9.18},{"k":"z5","t":5.62,"v":-10},
{"k":"z6","t":9.44,"v":-5.5},{"k":"z6","t":9.67,"v":-4.89},{"k":"z6","t":9.9,"v":-5.3},{"k":"z6","t":10.24,"v":-5.6},{"k":"z6","t":10.58,"v":-5.71},{"k":"z6","t":11.04,"v":-5.91},{"k":"z6","t":11.38,"v":-5.5},{"k":"z6","t":11.73,"v":-4.89},{"k":"z6","t":11.96,"v":-5.5},{"k":"z6","t":12.3,"v":-6.11},{"k":"z6","t":12.52,"v":-6.73},{"k":"z6","t":12.87,"v":-6.93},{"k":"z6","t":13.22,"v":-7.34},{"k":"z6","t":13.67,"v":-8.16},{"k":"z6","t":14,"v":-8.98},
{"k":"z7","t":1.34,"v":2.17},{"k":"z7","t":1.4,"v":1.66},{"k":"z7","t":1.28,"v":1.04},{"k":"z7","t":1.16,"v":0.84},{"k":"z7","t":1.11,"v":1.25},{"k":"z7","t":1.22,"v":1.86},{"k":"z7","t":1.34,"v":2.17},
{"k":"z8","t":2.53,"v":1.66},{"k":"z8","t":2.82,"v":1.25},{"k":"z8","t":2.93,"v":0.43},{"k":"z8","t":2.76,"v":-0.18},{"k":"z8","t":2.48,"v":-0.39},{"k":"z8","t":2.25,"v":0.23},{"k":"z8","t":2.25,"v":1.04},{"k":"z8","t":2.53,"v":1.66},
{"k":"z9","t":0.65,"v":-0.7},{"k":"z9","t":0.82,"v":-1.41},{"k":"z9","t":0.88,"v":-2.43},{"k":"z9","t":0.76,"v":-2.84},{"k":"z9","t":0.59,"v":-2.64},{"k":"z9","t":0.48,"v":-2.02},{"k":"z9","t":0.54,"v":-1.21},{"k":"z9","t":0.65,"v":-0.7},
{"k":"z10","t":2.53,"v":-7.95},{"k":"z10","t":2.82,"v":-8.16},{"k":"z10","t":2.88,"v":-8.57},{"k":"z10","t":2.65,"v":-8.88},{"k":"z10","t":2.42,"v":-8.67},{"k":"z10","t":2.4,"v":-8.16},{"k":"z10","t":2.53,"v":-7.95},
{"k":"z11","t":6.64,"v":-10},{"k":"z11","t":6.64,"v":-8.4},{"k":"z11","t":6.85,"v":-8.28},{"k":"z11","t":7.04,"v":-8.6},{"k":"z11","t":7.27,"v":-9.4},{"k":"z11","t":7.45,"v":-10},
{"k":"z12","t":7.55,"v":-10},{"k":"z12","t":7.6,"v":-9.1},{"k":"z12","t":7.8,"v":-8.95},{"k":"z12","t":7.95,"v":-9.1},{"k":"z12","t":7.97,"v":-10},
{"k":"z13","t":7.16,"v":1.25},{"k":"z13","t":7.5,"v":1.25},{"k":"z13","t":7.67,"v":0.43},{"k":"z13","t":7.73,"v":-1.0},{"k":"z13","t":7.5,"v":-0.9},{"k":"z13","t":7.27,"v":-1.0},{"k":"z13","t":7.21,"v":0.02},{"k":"z13","t":7.16,"v":1.25},
{"k":"z14","t":13.1,"v":0.02},{"k":"z14","t":13.33,"v":-0.18},{"k":"z14","t":13.38,"v":-1.0},{"k":"z14","t":13.21,"v":-1.41},{"k":"z14","t":13.1,"v":-1.0},{"k":"z14","t":13.1,"v":0.02}
],
"bT":[
{"k":"t1","t":6.64,"v":-2.84},{"k":"t1","t":6.36,"v":-2.02},{"k":"t1","t":6.24,"v":0.02},{"k":"t1","t":6.3,"v":2.27},{"k":"t1","t":6.64,"v":3.19},{"k":"t1","t":6.82,"v":3.5},{"k":"t1","t":7.16,"v":4.31},{"k":"t1","t":7.96,"v":4.83},{"k":"t1","t":8.76,"v":5.23},{"k":"t1","t":9.44,"v":6.05},{"k":"t1","t":10.13,"v":6.97},{"k":"t1","t":10.47,"v":6.87},{"k":"t1","t":10.93,"v":6.56},{"k":"t1","t":11.38,"v":6.77},{"k":"t1","t":11.73,"v":6.36},{"k":"t1","t":12.07,"v":6.97},{"k":"t1","t":12.41,"v":6.16},{"k":"t1","t":12.87,"v":5.64},{"k":"t1","t":13.32,"v":5.44},{"k":"t1","t":13.67,"v":4.72},{"k":"t1","t":13.9,"v":3.5},{"k":"t1","t":14,"v":2.88},
{"k":"t2","t":7.05,"v":2.07},{"k":"t2","t":7.27,"v":3.29},{"k":"t2","t":7.73,"v":3.5},{"k":"t2","t":7.9,"v":2.47},{"k":"t2","t":7.96,"v":-1.62},{"k":"t2","t":7.85,"v":-2.64},{"k":"t2","t":7.39,"v":-2.84},{"k":"t2","t":7.05,"v":-2.02},{"k":"t2","t":7.05,"v":2.07},
{"k":"t3","t":7.16,"v":1.66},{"k":"t3","t":7.5,"v":2.17},{"k":"t3","t":7.73,"v":1.66},{"k":"t3","t":7.79,"v":-1.21},{"k":"t3","t":7.5,"v":-2.02},{"k":"t3","t":7.16,"v":-1.62},{"k":"t3","t":7.1,"v":0.02},{"k":"t3","t":7.16,"v":1.66},
{"k":"t5","t":8.3,"v":-2.43},{"k":"t5","t":8.3,"v":1.04},{"k":"t5","t":8.64,"v":2.47},{"k":"t5","t":9.44,"v":3.29},{"k":"t5","t":10.13,"v":3.5},{"k":"t5","t":10.7,"v":2.47},{"k":"t5","t":10.81,"v":0.63},{"k":"t5","t":11.16,"v":0.43},{"k":"t5","t":11.5,"v":0.02},{"k":"t5","t":11.84,"v":-1.21},{"k":"t5","t":12.07,"v":-2.43},{"k":"t5","t":12.52,"v":-2.84},{"k":"t5","t":13.21,"v":-3.05},{"k":"t5","t":13.67,"v":-3.25},{"k":"t5","t":14,"v":-3.66},
{"k":"t6","t":8.99,"v":0.43},{"k":"t6","t":9.21,"v":1.66},{"k":"t6","t":9.67,"v":2.07},{"k":"t6","t":10.13,"v":1.66},{"k":"t6","t":10.24,"v":0.63},{"k":"t6","t":10.13,"v":-0.59},{"k":"t6","t":10.35,"v":-1.62},{"k":"t6","t":10.58,"v":-2.84},{"k":"t6","t":10.47,"v":-3.87},{"k":"t6","t":10.13,"v":-3.25},{"k":"t6","t":9.78,"v":-2.84},{"k":"t6","t":9.44,"v":-3.25},{"k":"t6","t":9.1,"v":-2.84},{"k":"t6","t":8.87,"v":-1.62},{"k":"t6","t":8.99,"v":0.43},
{"k":"t7","t":12.0,"v":4.72},{"k":"t7","t":12.18,"v":4.93},{"k":"t7","t":12.3,"v":2.07},{"k":"t7","t":12.18,"v":-1.21},{"k":"t7","t":11.96,"v":-1.62},{"k":"t7","t":11.84,"v":2.07},{"k":"t7","t":12.0,"v":4.72},
{"k":"t8","t":12.64,"v":0.43},{"k":"t8","t":12.98,"v":2.47},{"k":"t8","t":13.44,"v":2.47},{"k":"t8","t":13.78,"v":0.63},{"k":"t8","t":13.9,"v":-1.21},{"k":"t8","t":13.67,"v":-2.43},{"k":"t8","t":13.1,"v":-2.23},{"k":"t8","t":12.64,"v":-1.21},{"k":"t8","t":12.64,"v":0.43},
{"k":"t9","t":9.61,"v":5.54},{"k":"t9","t":9.73,"v":5.13},{"k":"t9","t":9.61,"v":4.52},{"k":"t9","t":9.5,"v":4.93},{"k":"t9","t":9.61,"v":5.54},
{"k":"t10","t":9.84,"v":5.64},{"k":"t10","t":10.01,"v":5.34},{"k":"t10","t":9.9,"v":4.62},{"k":"t10","t":9.78,"v":5.03},{"k":"t10","t":9.84,"v":5.64},
{"k":"w1","t":0,"v":4.11},{"k":"w1","t":0.48,"v":3.7},{"k":"w1","t":0.59,"v":2.07},{"k":"w1","t":0.48,"v":0.02},{"k":"w1","t":0.14,"v":-2.02},{"k":"w1","t":0,"v":-2.43},
{"k":"w2","t":1.85,"v":3.29},{"k":"w2","t":2.53,"v":3.7},{"k":"w2","t":3.22,"v":3.5},{"k":"w2","t":4.02,"v":3.7},{"k":"w2","t":4.59,"v":3.39},{"k":"w2","t":4.7,"v":1.66},{"k":"w2","t":4.59,"v":-1.21},{"k":"w2","t":4.59,"v":-3.66},{"k":"w2","t":4.25,"v":-5.3},{"k":"w2","t":3.79,"v":-5.5},{"k":"w2","t":3.33,"v":-3.87},{"k":"w2","t":3.11,"v":-1.62},{"k":"w2","t":2.65,"v":-1.41},{"k":"w2","t":2.08,"v":-2.84},{"k":"w2","t":1.62,"v":-2.43},{"k":"w2","t":1.39,"v":-0.39},{"k":"w2","t":1.51,"v":1.45},{"k":"w2","t":1.85,"v":3.29},
{"k":"w3","t":1.96,"v":1.66},{"k":"w3","t":2.42,"v":2.27},{"k":"w3","t":3.11,"v":2.07},{"k":"w3","t":3.22,"v":0.63},{"k":"w3","t":2.88,"v":-0.59},{"k":"w3","t":2.42,"v":-0.8},{"k":"w3","t":1.96,"v":0.02},{"k":"w3","t":1.96,"v":1.66},
{"k":"w4","t":3.45,"v":2.27},{"k":"w4","t":3.68,"v":2.47},{"k":"w4","t":3.79,"v":1.04},{"k":"w4","t":4.02,"v":-0.18},{"k":"w4","t":4.36,"v":-0.39},{"k":"w4","t":4.42,"v":-1.41},{"k":"w4","t":4.02,"v":-1.82},{"k":"w4","t":3.68,"v":-2.02},{"k":"w4","t":3.45,"v":-0.39},{"k":"w4","t":3.45,"v":2.27},
{"k":"w5","t":4.13,"v":2.27},{"k":"w5","t":4.47,"v":2.07},{"k":"w5","t":4.42,"v":1.25},{"k":"w5","t":4.13,"v":1.45},{"k":"w5","t":4.13,"v":2.27},
{"k":"tl","t":0,"v":9.22},{"k":"tl","t":0.48,"v":9.6},{"k":"tl","t":0.59,"v":8.2},{"k":"tl","t":0.37,"v":7.59},{"k":"tl","t":0,"v":7.49}
],
"bL":[{"t":2.36,"v":-4.6,"s":"0.00","a":-90},{"t":9.04,"v":-7.67,"s":"0.00","a":-90}],
"vB":[{"t":1.2,"s":"dot"},{"t":6.53,"s":"solid"},{"t":12.6,"s":"dash"}],
"cS":[{"lat":9.9,"u":-0.21},{"lat":9.36,"u":-0.41},{"lat":8.86,"u":-0.41},{"lat":8.46,"u":-0.23},{"lat":7.96,"u":-0.05},{"lat":7.56,"u":0.09},{"lat":7.06,"u":0.06},{"lat":6.46,"u":-0.02},{"lat":5.96,"u":-0.05},{"lat":5.56,"u":0.09},{"lat":4.96,"u":0.32},{"lat":4.06,"u":0.53},{"lat":3.26,"u":0.37},{"lat":2.56,"u":0.18},{"lat":1.96,"u":0.02},{"lat":1.66,"u":0.05},{"lat":1.36,"u":0.18},{"lat":0.96,"u":0.44},{"lat":0.56,"u":0.51},{"lat":0.26,"u":0.46},{"lat":-0.14,"u":0.44},{"lat":-0.44,"u":0.32},{"lat":-0.84,"u":0.21},{"lat":-1.14,"u":0.18},{"lat":-1.74,"u":0.07},{"lat":-2.44,"u":-0.05},{"lat":-3.14,"u":-0.05},{"lat":-3.54,"u":-0.02},{"lat":-4.14,"u":-0.09},{"lat":-4.74,"u":-0.16},{"lat":-5.54,"u":-0.18},{"lat":-6.14,"u":-0.12},{"lat":-6.54,"u":-0.02},{"lat":-6.94,"u":0.04},{"lat":-7.34,"u":-0.05},{"lat":-7.84,"u":-0.09}],
"cD":[{"lat":9.6,"u":-0.71},{"lat":9.2,"u":-0.46},{"lat":8.7,"u":-0.23},{"lat":8.1,"u":0.0},{"lat":7.3,"u":0.23},{"lat":6.5,"u":0.51},{"lat":6.0,"u":0.83},{"lat":5.5,"u":1.13},{"lat":5.1,"u":1.11},{"lat":4.6,"u":0.78},{"lat":4.1,"u":0.55},{"lat":3.3,"u":0.37},{"lat":2.5,"u":0.14},{"lat":1.9,"u":0.05},{"lat":1.1,"u":0.21},{"lat":0.1,"u":0.32},{"lat":-0.4,"u":0.6},{"lat":-1.0,"u":0.44},{"lat":-1.4,"u":0.62},{"lat":-2.4,"u":0.62},{"lat":-2.7,"u":0.41},{"lat":-3.3,"u":0.02},{"lat":-4.0,"u":0.1},{"lat":-4.8,"u":0.18},{"lat":-5.3,"u":0.07},{"lat":-5.7,"u":-0.02},{"lat":-6.2,"u":0.02},{"lat":-6.7,"u":0.07},{"lat":-7.1,"u":0.0},{"lat":-7.4,"u":0.07}],
"cO":[{"lat":9.9,"u":-0.09},{"lat":9.26,"u":0.14},{"lat":8.46,"u":0.41},{"lat":7.86,"u":0.69},{"lat":7.26,"u":0.88},{"lat":6.76,"u":0.69},{"lat":6.36,"u":0.37},{"lat":5.96,"u":0.07},{"lat":5.36,"u":0.18},{"lat":5.16,"u":0.37},{"lat":4.86,"u":0.48},{"lat":4.36,"u":0.37},{"lat":3.96,"u":0.0},{"lat":3.66,"u":-0.37},{"lat":3.06,"u":-0.69},{"lat":2.26,"u":-0.88},{"lat":1.46,"u":-0.9},{"lat":0.86,"u":-0.78},{"lat":0.26,"u":-0.51},{"lat":0.06,"u":-0.37},{"lat":-0.54,"u":-0.32},{"lat":-1.34,"u":-0.28},{"lat":-1.74,"u":-0.37},{"lat":-2.74,"u":-0.44},{"lat":-3.14,"u":-0.48},{"lat":-3.54,"u":-0.62},{"lat":-3.94,"u":-0.51},{"lat":-4.54,"u":-0.23},{"lat":-5.14,"u":-0.05},{"lat":-5.54,"u":0.07},{"lat":-5.94,"u":-0.02},{"lat":-6.74,"u":0.0},{"lat":-7.54,"u":0.07},{"lat":-7.94,"u":0.09}]
},
"hconcat":[
{
"width":409,"height":326,
"title":{"text":"(a) Oscar","anchor":"start","frame":"group","dx":-6,"offset":-27,"baseline":"alphabetic","fontSize":24},
"layer":[
{"data":{"name":"aG"},"mark":{"type":"area","color":"#bababa","orient":"vertical"},
"encoding":{"x":{"field":"t","type":"quantitative","scale":{"domain":[0,14],"nice":false,"zero":false},
"axis":{"orient":"bottom","values":[0,1,2,3,4,5,6,7,8,9,10,11,12,13,14],"title":null,"labelExpr":"['N','D','J','F','M','A','M','J','J','A','S','O','N','D',''][datum.value]","labelOffset":14.6,"labelFont":"Liberation Serif","labelFontWeight":"bold","labelFontSize":14,"labelPadding":6,"tickSize":6,"labelFlush":false,"labelBound":false,"labelOverlap":false}},
"y":{"field":"lo","type":"quantitative","scale":{"domain":[-10,10],"nice":false,"zero":false},
"axis":{"orient":"left","values":[-10,-8,-6,-4,-2,0,2,4,6,8,10],"title":null,"tickSize":11,"labelPadding":8,"labelFont":"Liberation Serif","labelFontWeight":"bold","labelFontSize":18,"labelExpr":"datum.value % 4 != 0 ? '' : datum.value > 0 ? datum.value + '°N' : datum.value < 0 ? (-datum.value) + '°S' : '0°'"}},
"y2":{"field":"hi"},"detail":{"field":"k"}}},
{"data":{"name":"aW"},"mark":{"type":"area","color":"white","orient":"vertical"},
"encoding":{"x":{"field":"t","type":"quantitative","scale":{"domain":[0,14],"nice":false,"zero":false},"axis":null},"y":{"field":"lo","type":"quantitative","scale":{"domain":[-10,10],"nice":false,"zero":false},"axis":null},"y2":{"field":"hi"},"detail":{"field":"k"}}},
{"data":{"name":"vA"},"mark":{"type":"rule","color":"#666","strokeWidth":1.3},
"encoding":{"x":{"field":"t","type":"quantitative","scale":{"domain":[0,14],"nice":false,"zero":false},"axis":{"orient":"bottom","values":[2],"title":null,"labels":false,"domain":false,"tickSize":13}},"strokeDash":{"field":"s","type":"nominal","scale":{"domain":["dot","solid","dash"],"range":[[4,4],[1,0],[12,6]]},"legend":null}}},
{"data":{"name":"aT"},"mark":{"type":"line","color":"#666","strokeWidth":1},
"encoding":{"x":{"field":"t","type":"quantitative","scale":{"domain":[0,14],"nice":false,"zero":false},"axis":null},"y":{"field":"v","type":"quantitative","scale":{"domain":[-10,10],"nice":false,"zero":false},"axis":null},"detail":{"field":"k"},"order":{"value":null}}},
{"data":{"name":"aZ"},"mark":{"type":"line","color":"#111","strokeWidth":2.4,"strokeJoin":"round"},
"encoding":{"x":{"field":"t","type":"quantitative","scale":{"domain":[0,14],"nice":false,"zero":false},"axis":{"orient":"top","values":[0,1,2,3,4,5,6,7,8,9,10,11,12,13,14],"title":null,"labels":false,"tickSize":10}},"y":{"field":"v","type":"quantitative","scale":{"domain":[-10,10],"nice":false,"zero":false},"axis":{"orient":"right","values":[-10,-8,-6,-4,-2,0,2,4,6,8,10],"title":null,"labels":false,"tickSize":12}},"detail":{"field":"k"},"order":{"value":null}}},
{"data":{"name":"aL"},"mark":{"type":"text","font":"DejaVu Serif","fontSize":21,"color":"#222"},
"encoding":{"x":{"field":"t","type":"quantitative","scale":{"domain":[0,14],"nice":false,"zero":false},"axis":null},"y":{"field":"v","type":"quantitative","scale":{"domain":[-10,10],"nice":false,"zero":false},"axis":null},"text":{"field":"s"},"angle":{"field":"a","type":"quantitative","scale":null}}},
{"data":{"values":[{"t":8.05,"v":-10,"s":"1997"}]},"mark":{"type":"text","font":"Liberation Serif","fontSize":22,"color":"#222","dy":47,"baseline":"alphabetic"},
"encoding":{"x":{"field":"t","type":"quantitative","scale":{"domain":[0,14],"nice":false,"zero":false},"axis":null},"y":{"field":"v","type":"quantitative","scale":{"domain":[-10,10],"nice":false,"zero":false},"axis":null},"text":{"field":"s"}}}
],
"resolve":{"axis":{"x":"independent","y":"independent"}}
},
{
"width":409,"height":326,
"title":{"text":"(b) model","anchor":"start","frame":"group","dx":-6,"offset":-27,"baseline":"alphabetic","fontSize":24},
"layer":[
{"data":{"name":"bG"},"mark":{"type":"area","color":"#bababa","orient":"vertical"},
"encoding":{"x":{"field":"t","type":"quantitative","scale":{"domain":[0,14],"nice":false,"zero":false},
"axis":{"orient":"bottom","values":[0,1,2,3,4,5,6,7,8,9,10,11,12,13,14],"title":null,"labelExpr":"['N','D','J','F','M','A','M','J','J','A','S','O','N','D',''][datum.value]","labelOffset":14.6,"labelFont":"Liberation Serif","labelFontWeight":"bold","labelFontSize":14,"labelPadding":6,"tickSize":6,"labelFlush":false,"labelBound":false,"labelOverlap":false}},
"y":{"field":"lo","type":"quantitative","scale":{"domain":[-10,10],"nice":false,"zero":false},
"axis":{"orient":"left","values":[-10,-8,-6,-4,-2,0,2,4,6,8,10],"title":" ","titleFontSize":6,"titlePadding":2,"minExtent":0,"labels":false,"tickSize":11}},
"y2":{"field":"hi"},"detail":{"field":"k"}}},
{"data":{"name":"bW"},"mark":{"type":"area","color":"white","orient":"vertical"},
"encoding":{"x":{"field":"t","type":"quantitative","scale":{"domain":[0,14],"nice":false,"zero":false},"axis":null},"y":{"field":"lo","type":"quantitative","scale":{"domain":[-10,10],"nice":false,"zero":false},"axis":null},"y2":{"field":"hi"},"detail":{"field":"k"}}},
{"data":{"name":"vB"},"mark":{"type":"rule","color":"#666","strokeWidth":1.3},
"encoding":{"x":{"field":"t","type":"quantitative","scale":{"domain":[0,14],"nice":false,"zero":false},"axis":{"orient":"bottom","values":[2],"title":null,"labels":false,"domain":false,"tickSize":13}},"strokeDash":{"field":"s","type":"nominal","scale":{"domain":["dot","solid","dash"],"range":[[4,4],[1,0],[12,6]]},"legend":null}}},
{"data":{"name":"bT"},"mark":{"type":"line","color":"#666","strokeWidth":1},
"encoding":{"x":{"field":"t","type":"quantitative","scale":{"domain":[0,14],"nice":false,"zero":false},"axis":null},"y":{"field":"v","type":"quantitative","scale":{"domain":[-10,10],"nice":false,"zero":false},"axis":null},"detail":{"field":"k"},"order":{"value":null}}},
{"data":{"name":"bZ"},"mark":{"type":"line","color":"#111","strokeWidth":2.4,"strokeJoin":"round"},
"encoding":{"x":{"field":"t","type":"quantitative","scale":{"domain":[0,14],"nice":false,"zero":false},"axis":{"orient":"top","values":[0,1,2,3,4,5,6,7,8,9,10,11,12,13,14],"title":null,"labels":false,"tickSize":10}},"y":{"field":"v","type":"quantitative","scale":{"domain":[-10,10],"nice":false,"zero":false},"axis":{"orient":"right","values":[-10,-8,-6,-4,-2,0,2,4,6,8,10],"title":null,"labels":false,"tickSize":12}},"detail":{"field":"k"},"order":{"value":null}}},
{"data":{"name":"bL"},"mark":{"type":"text","font":"DejaVu Serif","fontSize":22,"color":"#222"},
"encoding":{"x":{"field":"t","type":"quantitative","scale":{"domain":[0,14],"nice":false,"zero":false},"axis":null},"y":{"field":"v","type":"quantitative","scale":{"domain":[-10,10],"nice":false,"zero":false},"axis":null},"text":{"field":"s"},"angle":{"field":"a","type":"quantitative","scale":null}}},
{"data":{"values":[{"t":8.08,"v":-10,"s":"1997"}]},"mark":{"type":"text","font":"Liberation Serif","fontSize":22,"color":"#222","dy":47,"baseline":"alphabetic"},
"encoding":{"x":{"field":"t","type":"quantitative","scale":{"domain":[0,14],"nice":false,"zero":false},"axis":null},"y":{"field":"v","type":"quantitative","scale":{"domain":[-10,10],"nice":false,"zero":false},"axis":null},"text":{"field":"s"}}}
],
"resolve":{"axis":{"x":"independent","y":"independent"}}
},
{
"width":181,"height":330,
"title":{"text":"(c) cruise","anchor":"start","frame":"group","dx":0,"offset":-27,"baseline":"alphabetic","fontSize":24},
"layer":[
{"data":{"values":[{"x":0}]},"mark":{"type":"rule","color":"#888","strokeWidth":1.2},
"encoding":{"x":{"field":"x","type":"quantitative","scale":{"domain":[-1,1.5],"nice":false,"zero":false},
"axis":{"orient":"bottom","values":[-1,-0.5,0,0.5,1,1.5],"title":null,"tickSize":9,"labelPadding":10,"labelFont":"Liberation Serif","labelFontSize":16,"labelFlush":false,"labelBound":false,"labelExpr":"datum.value == -1 ? '−1' : datum.value == 0 ? '0' : datum.value == 1 ? '1' : ''"}}}},
{"data":{"name":"cS"},"mark":{"type":"line","color":"#111","strokeWidth":1.8},
"encoding":{"x":{"field":"u","type":"quantitative","scale":{"domain":[-1,1.5],"nice":false,"zero":false},"axis":{"orient":"top","values":[-1,-0.5,0,0.5,1,1.5],"title":null,"labels":false,"tickSize":10}},"y":{"field":"lat","type":"quantitative","scale":{"domain":[-10,10],"nice":false,"zero":false},"axis":{"orient":"left","values":[-10,-8,-6,-4,-2,0,2,4,6,8,10],"title":null,"labels":false,"tickSize":10}},"order":{"value":null}}},
{"data":{"name":"cD"},"mark":{"type":"line","color":"#111","strokeWidth":1.8,"strokeDash":[14,8]},
"encoding":{"x":{"field":"u","type":"quantitative","scale":{"domain":[-1,1.5],"nice":false,"zero":false},"axis":null},"y":{"field":"lat","type":"quantitative","scale":{"domain":[-10,10],"nice":false,"zero":false},"axis":{"orient":"right","values":[-10,-8,-6,-4,-2,0,2,4,6,8,10],"title":null,"labels":false,"tickSize":10}},"order":{"value":null}}},
{"data":{"name":"cO"},"mark":{"type":"line","color":"#111","strokeWidth":1.8,"strokeDash":[3,4]},
"encoding":{"x":{"field":"u","type":"quantitative","scale":{"domain":[-1,1.5],"nice":false,"zero":false},"axis":null},"y":{"field":"lat","type":"quantitative","scale":{"domain":[-10,10],"nice":false,"zero":false},"axis":null},"order":{"value":null}}}
],
"resolve":{"axis":{"x":"independent","y":"independent"}}
}
]
}
